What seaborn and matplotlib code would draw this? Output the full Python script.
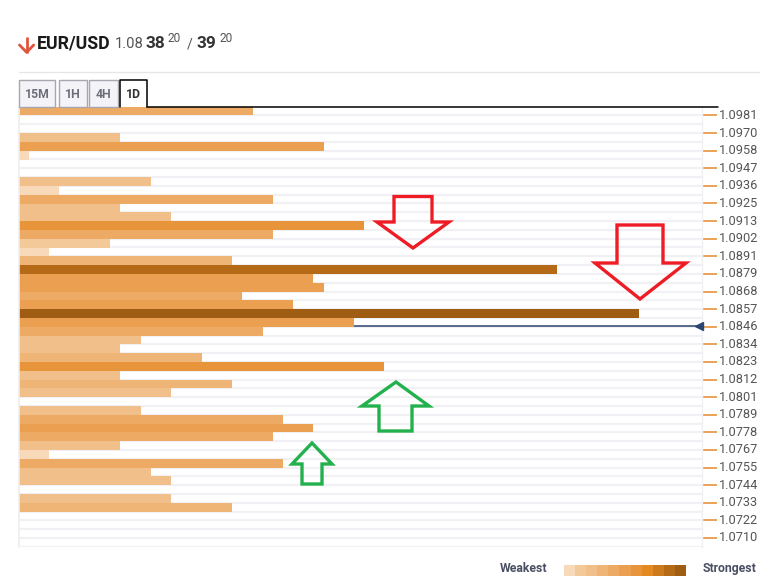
import numpy as np
import pandas as pd
import matplotlib
matplotlib.use("Agg")
import matplotlib.pyplot as plt
import seaborn as sns
from matplotlib.patches import Rectangle, Polygon
from matplotlib.lines import Line2D

# ---------------- data ----------------
price_labels = ["1.0981", "1.0970", "1.0958", "1.0947", "1.0936", "1.0925", "1.0913",
                "1.0902", "1.0891", "1.0879", "1.0868", "1.0857", "1.0846", "1.0834",
                "1.0823", "1.0812", "1.0801", "1.0789", "1.0778", "1.0767", "1.0755",
                "1.0744", "1.0733", "1.0722", "1.0710"]
# confluence strength per price row (top to bottom)
strength = [234, 0, 0, 101, 305, 10, 0, 0, 132, 40,
            254, 101, 152, 345, 254, 91, 30, 213, 538, 294,
            305, 223, 274, 620, 335, 244, 122, 101, 183, 365,
            101, 213, 152, 0, 122, 264, 294, 254, 101, 30,
            264, 132, 152, 0, 152, 213, 0, 0, 0, 0]
# shade level (1 = weakest ... 11 = strongest)
shade = [5, 1, 1, 3, 6, 1, 1, 1, 3, 1,
         5, 3, 3, 7, 5, 2, 1, 4, 10, 6,
         6, 5, 6, 11, 6, 5, 3, 3, 4, 7,
         3, 4, 3, 1, 3, 5, 6, 5, 3, 1,
         5, 3, 3, 1, 3, 4, 1, 1, 1, 1]
palette_colors = ["#F8D9B9", "#F4C99A", "#F1C08A", "#EFB577", "#EDAA64", "#EAA050",
                  "#E8943A", "#E58A22", "#CD7A1D", "#B56A17", "#9F5C13"]
current_price = 1.0846
pair = "EUR/USD"
bid_big, bid_pips, bid_frac = "1.08", "38", "20"
ask_pips, ask_frac = "39", "20"
timeframes = ["15M", "1H", "4H", "1D"]

# ---------------- setup ----------------
sns.set_theme(style="white")
plt.rcParams["font.family"] = ["Roboto", "DejaVu Sans"]

W, H = 760, 582
fig = plt.figure(figsize=(W / 100, H / 100), dpi=100)
fig.patch.set_facecolor("white")


def px(x, y):
    return x / W, 1 - y / H


n_rows = len(strength)
top_px, bot_px, left_px, right_px = 106.7, 546.7, 19, 702
ax = fig.add_axes([left_px / W, 1 - bot_px / H, (right_px - left_px) / W, (bot_px - top_px) / H])

df = pd.DataFrame({"row": np.arange(n_rows), "strength": strength, "shade": shade})
pal = {i + 1: c for i, c in enumerate(palette_colors)}

# row separators
ax.hlines([i + 0.5 for i in range(n_rows)], 0, 1, transform=ax.get_yaxis_transform(),
          colors="#F0F0F5", lw=1.6, zorder=0)

# current price line
price_hi = float(price_labels[0])
price_lo = float(price_labels[-1])
rows_per_price = (2 * (len(price_labels) - 1)) / (price_hi - price_lo)
cur_pos = 0.5 + (price_hi - current_price) * rows_per_price
ax.axhline(cur_pos, color="#2B4470", lw=1.1, zorder=1)
ax.plot([0.995], [cur_pos], marker="<", color="#2B4470", markersize=6,
        transform=ax.get_yaxis_transform(), clip_on=False, zorder=3)

sns.barplot(data=df, x="strength", y="row", hue="shade", palette=pal, orient="h",
            order=list(range(n_rows)), width=1.0, dodge=False, legend=False,
            linewidth=0, saturation=1, ax=ax, zorder=2)

ax.set_xlim(0, right_px - left_px)
ax.set_ylim(n_rows - 0.5, -0.5)
ax.set_xlabel("")
ax.set_ylabel("")
ax.set_xticks([])
ax.yaxis.tick_right()
ax.set_yticks([2 * k + 0.5 for k in range(len(price_labels))])
ax.set_yticklabels(price_labels)
ax.tick_params(axis="y", length=10.8, width=1.2, color="#E8943A", labelsize=9.2,
               labelcolor="#555555", pad=1.2, left=False, right=True)
for lbl in ax.get_yticklabels():
    lbl.set_va("center")
for s in ["top", "bottom"]:
    ax.spines[s].set_visible(False)
ax.spines["left"].set_color("#EEEEEE")
ax.spines["right"].set_color("#F0F0F0")
ax.spines["left"].set_linewidth(1.2)
ax.spines["right"].set_linewidth(1.0)

# ---------------- header ----------------
fig.add_artist(Line2D([px(19, 0)[0], 1.0], [px(0, 71.7)[1]] * 2, color="#E6E6E6", lw=0.9))
# red down arrow icon
red_icon = "#E0533D"
fig.add_artist(Line2D([px(26.6, 0)[0]] * 2, [px(0, 37.3)[1], px(0, 52.5)[1]], color=red_icon, lw=2.0,
                      solid_capstyle="butt"))
fig.add_artist(Line2D([px(19.5, 0)[0], px(26.6, 0)[0], px(33.7, 0)[0]],
                      [px(0, 45)[1], px(0, 52.3)[1], px(0, 45)[1]], color=red_icon, lw=2.0))
base = px(0, 48.3)[1]
sup = px(0, 41.5)[1]
fig.text(px(36.5, 0)[0], base, pair, fontsize=12.8, fontweight="bold", color="#1A1A1A", va="baseline")
fig.text(px(115, 0)[0], base, bid_big, fontsize=10.6, color="#555555", va="baseline")
fig.text(px(146, 0)[0], base, bid_pips, fontsize=12.4, fontweight="bold", color="#333333", va="baseline")
fig.text(px(168, 0)[0], sup, bid_frac, fontsize=8.6, color="#555555", va="baseline")
fig.text(px(187, 0)[0], base, "/", fontsize=10.2, color="#555555", va="baseline")
fig.text(px(196, 0)[0], base, ask_pips, fontsize=12.4, fontweight="bold", color="#333333", va="baseline")
fig.text(px(219, 0)[0], sup, ask_frac, fontsize=8.6, color="#555555", va="baseline")

# timeframe tabs
tabs = [(19, 55), (59, 87), (89, 118), (120, 147)]
tab_top, tab_bot = 80, 106.7
for (x0, x1), name in zip(tabs, timeframes):
    active = name == "1D"
    if not active:
        fig.add_artist(Rectangle(px(x0, tab_bot), (x1 - x0) / W, (tab_bot - tab_top) / H,
                                 transform=fig.transFigure, facecolor="#F3F3F8",
                                 edgecolor="#A6A6AE", lw=1.0))
    else:
        fig.add_artist(Line2D([px(x0, 0)[0], px(x0, 0)[0], px(x1, 0)[0], px(x1, 0)[0]],
                              [px(0, tab_bot)[1], px(0, tab_top)[1], px(0, tab_top)[1], px(0, tab_bot)[1]],
                              color="black", lw=1.1))
    fig.text(px((x0 + x1) / 2, 0)[0], px(0, 94)[1], name, ha="center", va="center",
             fontsize=8.8, fontweight="bold", color="#333333" if active else "#6E6E78")
fig.add_artist(Line2D([px(147, 0)[0], px(718, 0)[0]], [px(0, tab_bot)[1]] * 2, color="black", lw=1.1))

# ---------------- arrows ----------------
def arrow(tip, head_y, head_l, head_r, sh_l, sh_r, end_y, color):
    tx, ty = tip
    pts = [(tx, ty), (head_r, head_y), (sh_r, head_y), (sh_r, end_y), (sh_l, end_y),
           (sh_l, head_y), (head_l, head_y)]
    fig.add_artist(Polygon([px(*p) for p in pts], closed=True, fill=False, edgecolor=color,
                           lw=2.4, joinstyle="miter", transform=fig.transFigure))

red, green = "#EE1C25", "#22B14C"
arrow((413, 248), 222, 377, 449, 394, 432, 196.5, red)
arrow((640, 299), 263, 595, 686, 617, 663, 225, red)
arrow((396, 382), 406, 362, 429, 379, 412, 431, green)
arrow((312, 443), 464, 292, 332, 302, 322, 484, green)

# ---------------- strength legend ----------------
fig.text(px(500, 0)[0], px(0, 568.5)[1], "Weakest", fontsize=8.8, fontweight="bold",
         color="#4A5063", va="center")
fig.text(px(703, 0)[0], px(0, 568.5)[1], "Strongest", fontsize=8.8, fontweight="bold",
         color="#4A5063", va="center")
lax = fig.add_axes([564 / W, 1 - 575.7 / H, (686 - 564) / W, (575.7 - 564.5) / H])
lax.bar(np.arange(len(palette_colors)), 1, width=1.0, color=palette_colors, linewidth=0)
lax.set_xlim(-0.5, len(palette_colors) - 0.5)
lax.set_ylim(0, 1)
lax.axis("off")

fig.savefig("out.png", dpi=100, facecolor="white")
